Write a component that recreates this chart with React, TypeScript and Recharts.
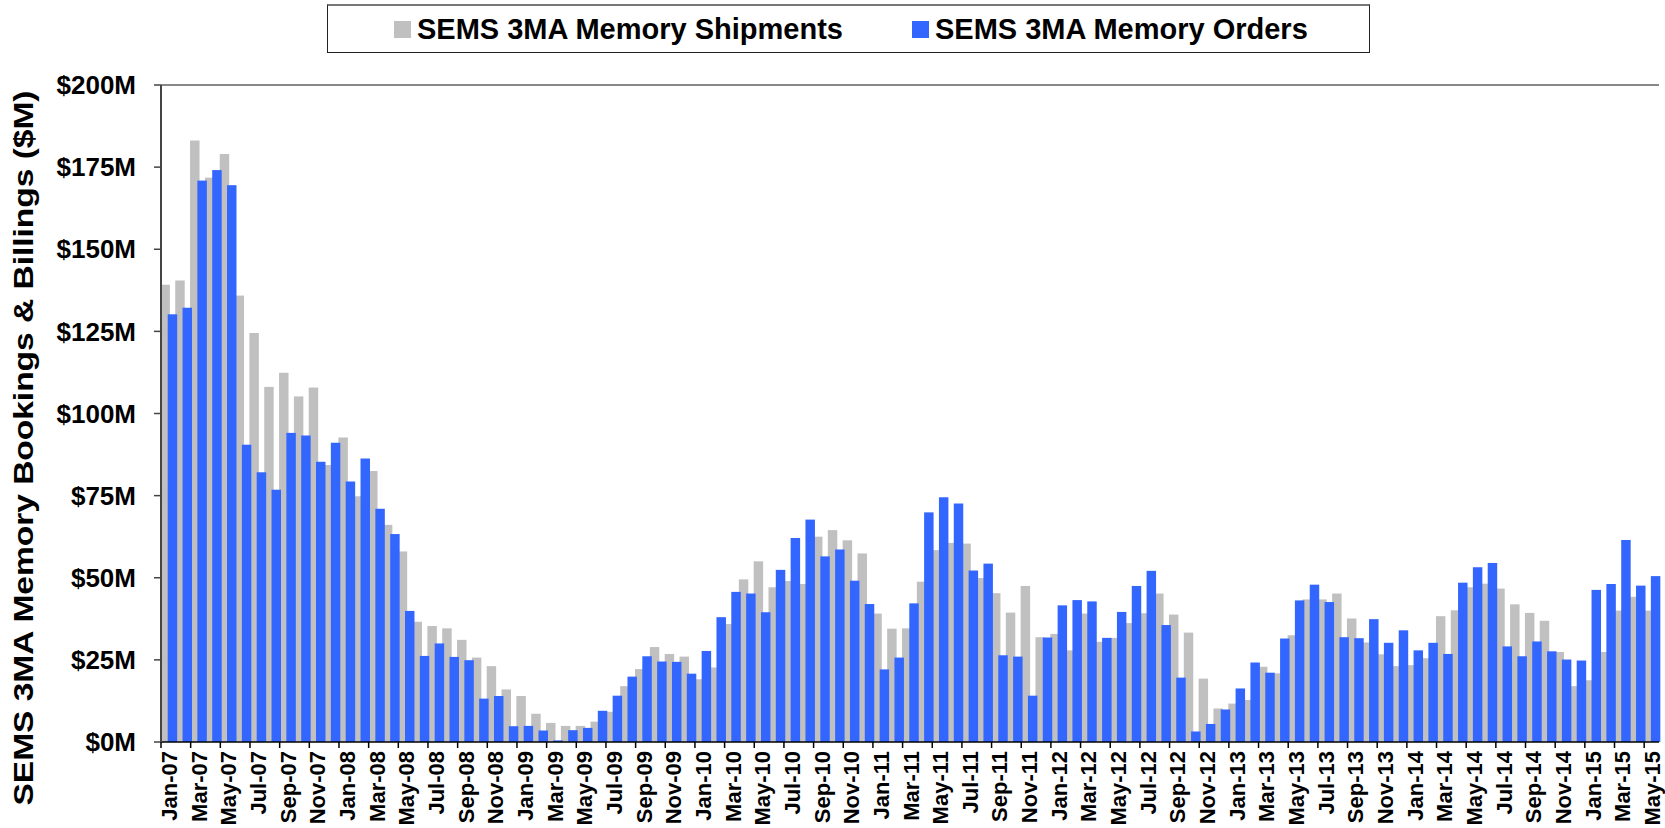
import { BarChart, Bar, XAxis, YAxis, Legend, ReferenceLine } from "recharts";

const FONT = '"Liberation Sans", Arial, sans-serif';

const monthNames = ["Jan", "Feb", "Mar", "Apr", "May", "Jun", "Jul", "Aug", "Sep", "Oct", "Nov", "Dec"];

// Jan-07 .. May-15
const months = Array.from(
  { length: 101 },
  (_, i) => `${monthNames[i % 12]}-${String(7 + Math.floor(i / 12)).padStart(2, "0")}`
);

const shipments = [
  139.2, 140.5, 183.1, 171.8, 179.0, 135.9, 124.5, 108.1, 112.4, 105.2, 107.9, 84.3,
  92.7, 74.8, 82.5, 66.1, 58.0, 36.6, 35.3, 34.6, 31.1, 25.7, 23.1, 16.0,
  14.0, 8.6, 5.8, 4.9, 4.9, 6.2, 9.2, 17.0, 22.2, 28.9, 26.8, 26.0,
  19.1, 22.7, 35.9, 49.5, 55.0, 47.1, 49.0, 48.1, 62.5, 64.5, 61.4, 57.4,
  39.1, 34.5, 34.6, 48.8, 58.4, 60.6, 60.4, 49.9, 45.3, 39.4, 47.5, 31.9,
  32.9, 27.9, 39.1, 30.5, 31.7, 36.2, 39.2, 45.2, 38.8, 33.3, 19.3, 10.2,
  11.7, 12.8, 22.9, 20.9, 32.5, 43.4, 43.4, 45.2, 37.6, 30.3, 26.7, 23.1,
  23.4, 25.5, 38.3, 40.1, 47.1, 48.2, 46.7, 41.9, 39.3, 36.9, 27.4, 17.0,
  18.8, 27.4, 40.0, 44.2, 40.0,
];

const orders = [
  130.2, 132.2, 170.9, 174.1, 169.5, 90.5, 82.1, 76.8, 94.1, 93.3, 85.3, 91.1,
  79.3, 86.3, 71.0, 63.3, 39.9, 26.2, 30.0, 25.9, 24.9, 13.2, 14.0, 4.8,
  4.9, 3.5, 0.5, 3.6, 4.3, 9.5, 14.1, 19.9, 26.1, 24.5, 24.4, 20.8,
  27.7, 38.0, 45.7, 45.2, 39.5, 52.4, 62.1, 67.7, 56.5, 58.6, 49.1, 42.0,
  22.1, 25.7, 42.2, 69.9, 74.5, 72.6, 52.2, 54.3, 26.4, 26.0, 14.1, 31.8,
  41.6, 43.2, 42.8, 31.7, 39.6, 47.5, 52.1, 35.6, 19.6, 3.2, 5.5, 9.9,
  16.3, 24.2, 21.1, 31.5, 43.1, 47.9, 42.6, 31.9, 31.6, 37.4, 30.2, 34.0,
  27.9, 30.2, 26.8, 48.5, 53.2, 54.5, 29.1, 26.1, 30.6, 27.6, 25.1, 24.8,
  46.3, 48.1, 61.5, 47.6, 50.5,
];

const yTicks = [0, 25, 50, 75, 100, 125, 150, 175, 200];

const seriesOrder = ["shipments", "orders"];

const data = months.map((month, i) => ({
  month,
  shipments: shipments[i],
  orders: orders[i],
}));

const W = 1665;
const H = 828;
const PLOT_LEFT = 161;
const PLOT_RIGHT_MARGIN = 6;
const PLOT_TOP = 85;
const X_AXIS_H = 86;
const PLOT_BOTTOM = H - X_AXIS_H;
const BAND = (W - PLOT_LEFT - PLOT_RIGHT_MARGIN) / months.length;

// bars in the original are wider than half a category and overlap a bit
const widened = (dx: number) => (props: any) => {
  const { x, y, width, height, fill } = props;
  if (height == null || height <= 0) return <g />;
  return <rect x={x + dx} y={y} width={width * 1.28} height={height} fill={fill} />;
};

const MonthTick = (props: any) => {
  const { x, payload } = props;
  const bx = x - BAND / 2;
  const ty = PLOT_BOTTOM + 9;
  return (
    <g>
      <line x1={bx} x2={bx} y1={PLOT_BOTTOM} y2={PLOT_BOTTOM + 6} stroke="#000" strokeWidth={1.5} />
      <text
        x={x + 1}
        y={ty}
        transform={`rotate(-90 ${x + 1} ${ty})`}
        textAnchor="end"
        dominantBaseline="central"
        fontFamily={FONT}
        fontWeight={700}
        fontSize={22}
        fill="#000"
      >
        {payload.value}
      </text>
    </g>
  );
};

const YTitle = () => (
  <text
    x={23}
    y={448}
    transform="rotate(-90 23 448)"
    textAnchor="middle"
    dominantBaseline="central"
    fontFamily={FONT}
    fontWeight={700}
    fontSize={28}
    textLength={715}
    lengthAdjust="spacingAndGlyphs"
    fill="#000"
  >
    SEMS 3MA Memory Bookings &amp; Billings ($M)
  </text>
);

const renderLegend = (props: any) => {
  const items = [...(props.payload || [])].sort(
    (a: any, b: any) => seriesOrder.indexOf(a.dataKey) - seriesOrder.indexOf(b.dataKey)
  );
  return (
    <div
      style={{
        boxSizing: "border-box",
        width: 1043,
        height: 49,
        border: "1px solid #222",
        borderTop: "2px solid #777",
        display: "flex",
        alignItems: "center",
        fontFamily: FONT,
        fontWeight: 700,
        fontSize: 29,
        lineHeight: 1,
        color: "#000",
        background: "#fff",
      }}
    >
      {items.map((entry: any, i: number) => (
        <div key={entry.value} style={{ display: "flex", alignItems: "center", marginLeft: i === 0 ? 66 : 69 }}>
          <span style={{ display: "inline-block", width: 17, height: 17, background: entry.color, marginRight: 6 }} />
          <span>{entry.value}</span>
        </div>
      ))}
    </div>
  );
};

export default function App() {
  return (
    <div style={{ position: "absolute", left: 0, top: 0, width: W, height: H, background: "#fff" }}>
      <BarChart
        width={W}
        height={H}
        data={data}
        margin={{ top: PLOT_TOP, right: PLOT_RIGHT_MARGIN, bottom: 0, left: 0 }}
        barCategoryGap={0}
        barGap={0}
      >
        <XAxis
          dataKey="month"
          interval={1}
          height={X_AXIS_H}
          tickLine={false}
          axisLine={{ stroke: "#000", strokeWidth: 1.5 }}
          tick={<MonthTick />}
        />
        <YAxis
          domain={[0, 200]}
          ticks={yTicks}
          interval={0}
          width={PLOT_LEFT}
          tickFormatter={(v) => `$${v}M`}
          tickSize={7}
          tickMargin={18}
          axisLine={{ stroke: "#444", strokeWidth: 2 }}
          tickLine={{ stroke: "#444", strokeWidth: 1.5 }}
          tick={{ fontFamily: FONT, fontWeight: 700, fontSize: 26, fill: "#000" }}
          label={YTitle}
        />
        <ReferenceLine y={200} stroke="#888" strokeWidth={2} />
        <ReferenceLine x="May-15" position="end" stroke="#888" strokeWidth={2} />
        <Legend
          layout="horizontal"
          verticalAlign="middle"
          align="center"
          content={renderLegend}
          wrapperStyle={{ top: 4, left: 327, width: 1043, height: 49 }}
        />
        <Bar
          dataKey="shipments"
          name="SEMS 3MA Memory Shipments"
          fill="#C0C0C0"
          barSize={7.4}
          shape={widened(-0.6)}
          isAnimationActive={false}
        />
        <Bar
          dataKey="orders"
          name="SEMS 3MA Memory Orders"
          fill="#3366FF"
          barSize={7.4}
          shape={widened(-0.7)}
          isAnimationActive={false}
        />
      </BarChart>
    </div>
  );
}
